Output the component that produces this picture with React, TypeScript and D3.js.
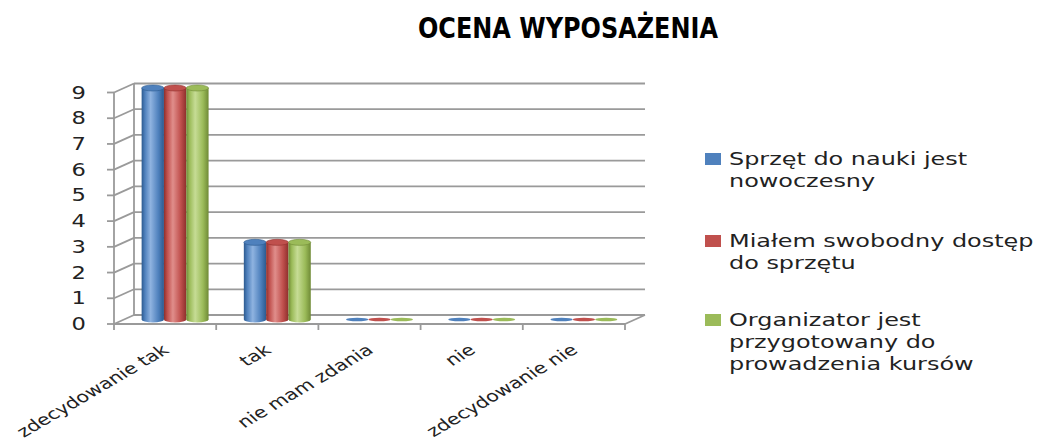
import React from "react";
import * as d3 from "d3";

const categories = ["zdecydowanie tak", "tak", "nie mam zdania", "nie", "zdecydowanie nie"];
const seriesNames = [
  ["Sprzęt do nauki jest", "nowoczesny"],
  ["Miałem swobodny dostęp", "do sprzętu"],
  ["Organizator jest", "przygotowany do", "prowadzenia kursów"],
];
const sprzetNowoczesny = [9, 3, 0, 0, 0];
const swobodnyDostep = [9, 3, 0, 0, 0];
const organizatorPrzygotowany = [9, 3, 0, 0, 0];
const yTicks = [0, 1, 2, 3, 4, 5, 6, 7, 8, 9];
const colors = ["#4F81BD", "#C0504D", "#9BBB59"];
const darkColors = ["#2c5a8f", "#8e2f2c", "#6f8a36"];
const lightColors = ["#8fb3e0", "#e08e8b", "#c6dc95"];

const allSeries = [sprzetNowoczesny, swobodnyDostep, organizatorPrzygotowany];

export default function App() {
  const x0 = 114, x1 = 625, yBase = 324, yTop = 92.5;
  const dx = 20, dy = -9;
  const sx = 1.33;
  const x = d3.scaleBand<string>().domain(categories).range([x0, x1]);
  const y = d3.scaleLinear().domain([0, 9]).range([yBase, yTop]);
  const xs = d3.scaleBand<number>().domain([0, 1, 2]).range([0, x.bandwidth()]).paddingInner(0).paddingOuter(0.79);
  const bw = xs.bandwidth();
  const ry = 3;
  const font = "'DejaVu Sans', Verdana, sans-serif";
  const grid = "#9a9a9a";
  const legendStarts = [165, 247, 326];

  return (
    <div style={{ position: "absolute", left: 0, top: 0 }}>
      <svg width={1051} height={445} style={{ display: "block", background: "#fff" }}>
        <defs>
          {colors.map((c, i) => (
            <linearGradient key={i} id={`cyl${i}`} x1="0" x2="1" y1="0" y2="0">
              <stop offset="0" stopColor={darkColors[i]} />
              <stop offset="0.15" stopColor={c} />
              <stop offset="0.4" stopColor={lightColors[i]} />
              <stop offset="0.75" stopColor={c} />
              <stop offset="1" stopColor={darkColors[i]} />
            </linearGradient>
          ))}
        </defs>
        <text x={568} y={38} textAnchor="middle" fontFamily="'DejaVu Sans Condensed', 'DejaVu Sans', sans-serif" fontWeight="bold" fontSize={29} textLength={300} lengthAdjust="spacingAndGlyphs">OCENA WYPOSAŻENIA</text>

        {/* back wall gridlines */}
        {yTicks.map((t) => (
          <g key={t}>
            <line x1={x0 + dx} x2={x1 + dx} y1={y(t) + dy} y2={y(t) + dy} stroke={grid} strokeWidth={1.8} />
            <line x1={x0} x2={x0 + dx} y1={y(t)} y2={y(t) + dy} stroke={grid} strokeWidth={1.8} />
            <line x1={x0 - 7} x2={x0} y1={y(t)} y2={y(t)} stroke={grid} strokeWidth={1.8} />
            <text transform={`translate(86,${y(t) + 6}) scale(${sx},1)`} textAnchor="end" fontFamily={font} fontSize={17} fill="#222">{t}</text>
          </g>
        ))}
        <line x1={x0 + dx} x2={x0 + dx} y1={y(0) + dy} y2={y(9) + dy} stroke={grid} strokeWidth={1.8} />
        <line x1={x0} x2={x0} y1={y(0)} y2={y(9)} stroke={grid} strokeWidth={1.8} />
        {/* floor */}
        <line x1={x0} x2={x1} y1={yBase} y2={yBase} stroke={grid} strokeWidth={1.8} />
        <line x1={x1} x2={x1 + dx} y1={yBase} y2={yBase + dy} stroke={grid} strokeWidth={1.8} />
        {[...categories.map((c) => x(c) as number), x1].map((v, i) => (
          <line key={i} x1={v} x2={v} y1={yBase} y2={yBase + 6} stroke={grid} strokeWidth={1.8} />
        ))}

        {/* bars */}
        {categories.map((c, ci) => (
          <g key={c}>
            {allSeries.map((s, si) => {
              const v = s[ci];
              const bx = (x(c) as number) + (xs(si) as number) + dx / 2;
              const by0 = y(0) + dy / 2;
              const byT = y(v) + dy / 2;
              const cx = bx + bw / 2;
              if (v === 0) {
                return <ellipse key={si} cx={cx} cy={by0} rx={bw / 2} ry={1.8} fill={colors[si]} />;
              }
              return (
                <g key={si}>
                  <ellipse cx={cx} cy={by0} rx={bw / 2} ry={ry} fill={`url(#cyl${si})`} />
                  <rect x={bx} y={byT} width={bw} height={by0 - byT} fill={`url(#cyl${si})`} />
                  <ellipse cx={cx} cy={byT} rx={bw / 2} ry={ry} fill={colors[si]} stroke={darkColors[si]} strokeWidth={0.6} />
                </g>
              );
            })}
          </g>
        ))}

        {/* category labels */}
        {categories.map((c) => {
          const cx = (x(c) as number) + x.bandwidth() / 2 + 5;
          return (
            <text key={c} transform={`translate(${cx},${352}) scale(${sx},1) rotate(-38)`} textAnchor="end" fontFamily={font} fontSize={15.5} fill="#222">{c}</text>
          );
        })}

        {/* legend */}
        {seriesNames.map((lines, i) => (
          <g key={i}>
            <rect x={705} y={legendStarts[i] - 12} width={16} height={12} fill={colors[i]} />
            {lines.map((ln, li) => (
              <text key={li} transform={`translate(729,${legendStarts[i] + li * 22}) scale(${sx},1)`} fontFamily={font} fontSize={18} fill="#222">{ln}</text>
            ))}
          </g>
        ))}
      </svg>
    </div>
  );
}
